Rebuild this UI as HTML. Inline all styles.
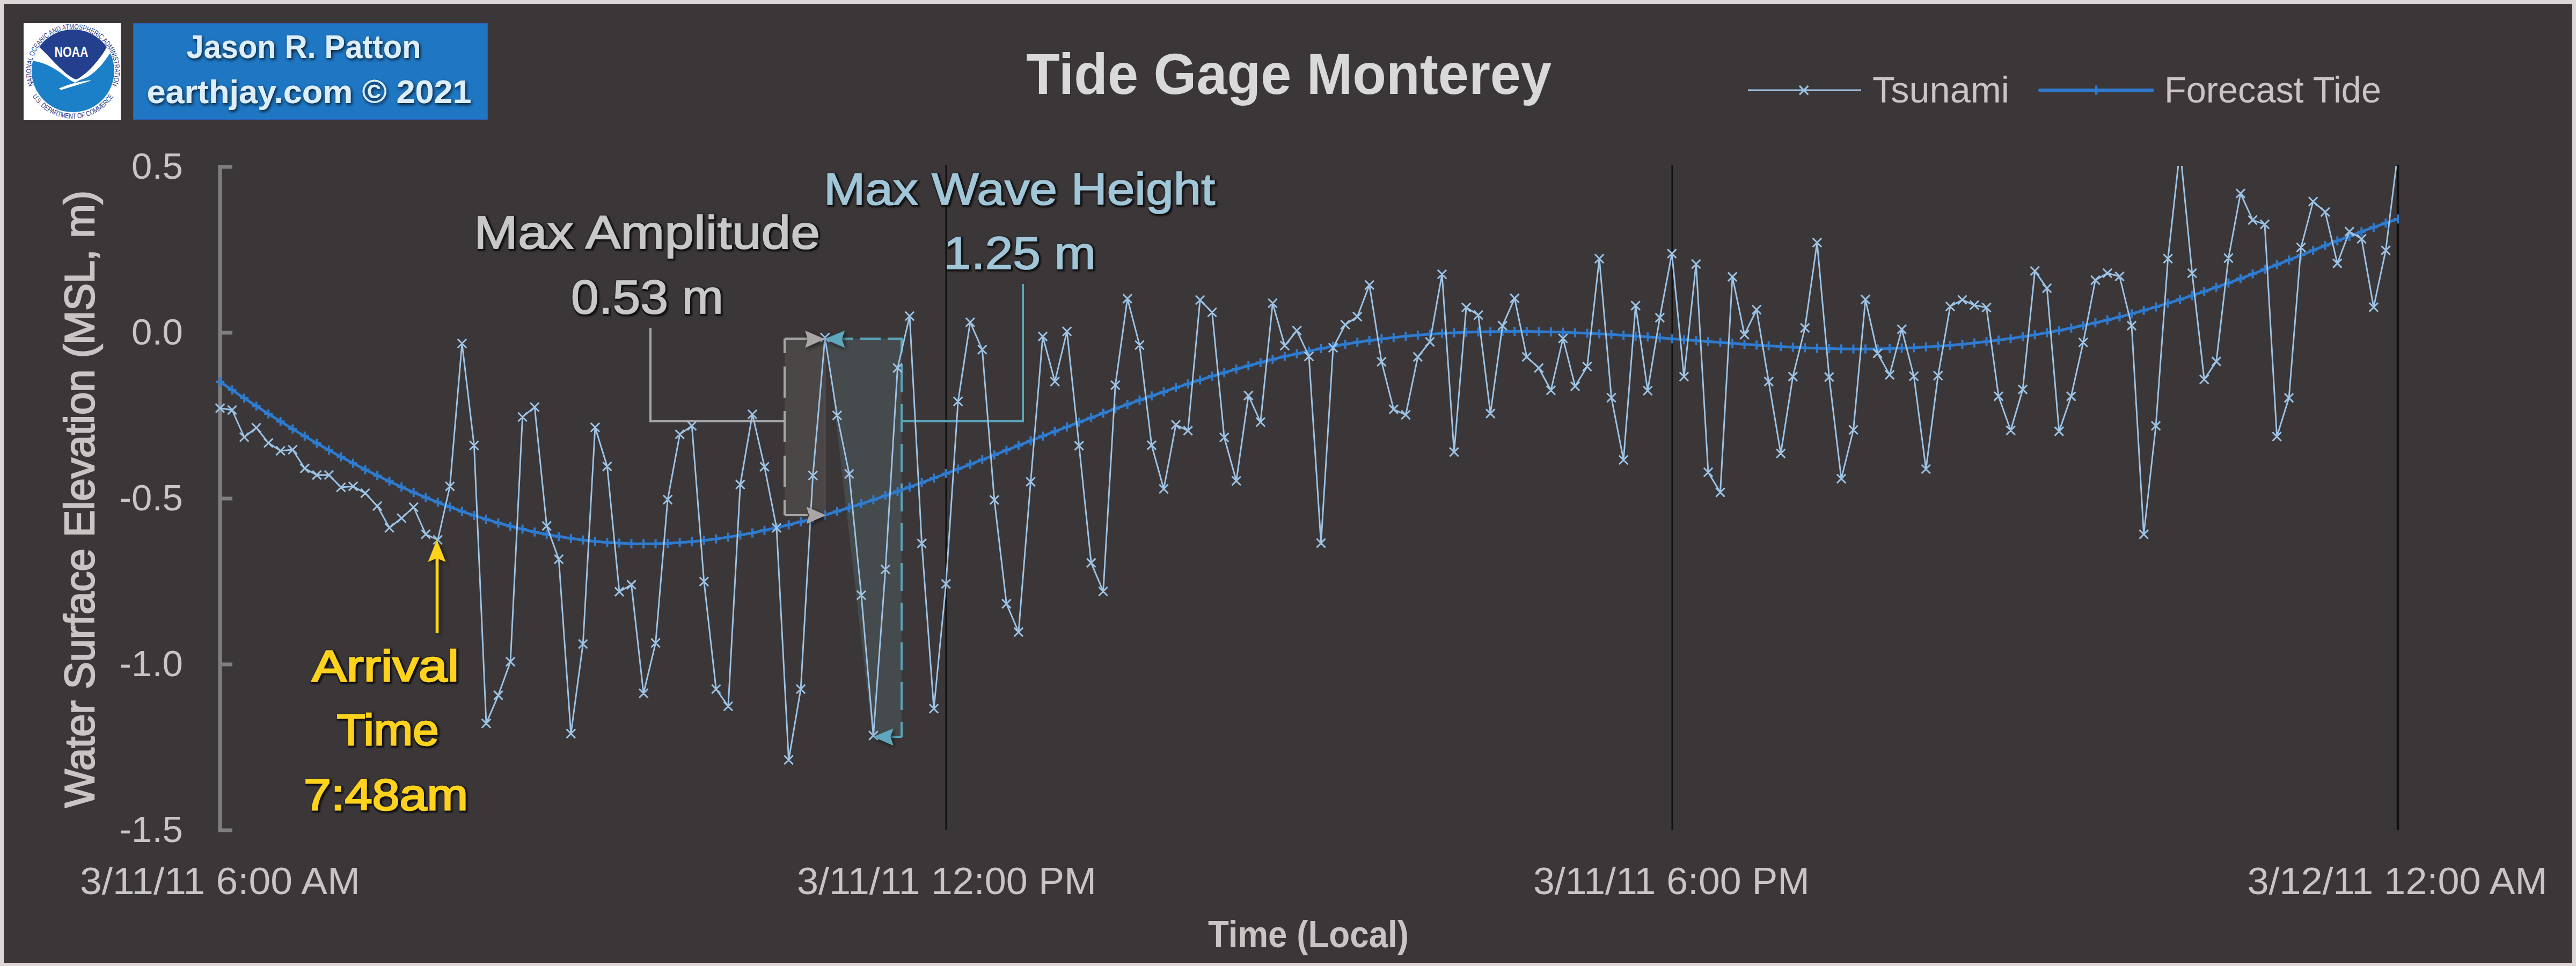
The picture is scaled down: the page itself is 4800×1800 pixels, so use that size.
<!DOCTYPE html>
<html><head><meta charset="utf-8">
<style>
html,body{margin:0;padding:0;background:#dcd8d8;}
body{width:4800px;height:1800px;overflow:hidden;}
svg{display:block;}
text{font-family:"Liberation Sans",sans-serif;}
</style></head>
<body>
<svg width="4800" height="1800" viewBox="0 0 4800 1800">
<defs>
<clipPath id="plotclip"><rect x="300" y="309" width="4170" height="1240"/></clipPath>
<filter id="sh" x="-10%" y="-20%" width="120%" height="140%">
<feDropShadow dx="2" dy="3" stdDeviation="3" flood-color="#000" flood-opacity="0.8"/>
</filter>
<filter id="sh2" x="-50%" y="-50%" width="200%" height="200%">
<feDropShadow dx="3" dy="3" stdDeviation="4" flood-color="#000" flood-opacity="0.6"/>
</filter>
<filter id="glow" x="-5%" y="-20%" width="110%" height="140%">
<feMorphology in="SourceAlpha" operator="dilate" radius="2" result="d"/>
<feGaussianBlur in="d" stdDeviation="1.5" result="b"/>
<feOffset in="b" dx="1.5" dy="2" result="o"/>
<feFlood flood-color="#000" flood-opacity="0.7"/>
<feComposite in2="o" operator="in" result="s"/>
<feMerge><feMergeNode in="s"/><feMergeNode in="SourceGraphic"/></feMerge>
</filter>
</defs>
<rect x="0" y="0" width="4800" height="1800" fill="#dcd8d8"/>
<rect x="7" y="7" width="4786" height="1787" fill="#3b3738"/>

<!-- NOAA logo -->
<g id="logo">
<rect x="44" y="43" width="181" height="181" fill="#ffffff"/>
<defs><clipPath id="disk"><circle cx="135.9" cy="132" r="77"/></clipPath>
<path id="ringTop" d="M68.35 171 A78 78 0 1 1 203.45 171" />
<path id="ringBot" d="M55.2 169.6 A89 89 0 0 0 216.6 169.6" />
</defs>
<circle cx="135.9" cy="132" r="77" fill="#1b80c7"/>
<g clip-path="url(#disk)">
<path d="M40 40 H232 V99 L205.2 99 C198 110 186 126 177.7 132.4 C168 141 158 147 150 148.5 L140 154 C134 152 126 146 118.7 140.3 C110 133 100 127 90 122 C80 117 70 114 40 110 Z" fill="#fff"/>
<path d="M40 40 H232 V80 L199.3 87.2 C194 97 188 106 173.8 122.6 C166 131 160 137 152 142 C148 145 145 147.5 141 148 C136 146 130 142 122.6 136.4 C114 129 108 123 100 115 C92 106 82 96 72.5 87.2 L40 80 Z" fill="#243f8d"/>
</g>
<path d="M109.5 165 C125 158 145 152 170 149.5 C166 152 158 154 150 156.5 C138 160 126 164 114 167.5 Z" fill="#fff"/>
<text x="133" y="106" font-size="28" font-weight="bold" fill="#fff" text-anchor="middle" textLength="63" lengthAdjust="spacingAndGlyphs">NOAA</text>
<text font-size="13.5" fill="#2b3d8f"><textPath href="#ringTop" startOffset="50%" text-anchor="middle" textLength="300" lengthAdjust="spacingAndGlyphs">NATIONAL OCEANIC AND ATMOSPHERIC ADMINISTRATION</textPath></text>
<text font-size="13.5" fill="#2b3d8f" dominant-baseline="auto"><textPath href="#ringBot" startOffset="50%" text-anchor="middle" textLength="180" lengthAdjust="spacingAndGlyphs">U.S. DEPARTMENT OF COMMERCE</textPath></text>
</g>

<!-- blue credit box -->
<rect x="249" y="44" width="659" height="179" fill="#1f77c4" stroke="#2c5fb8" stroke-width="2"/>
<g fill="#deeef9" font-weight="bold" font-size="62" filter="url(#sh)">
<text x="566" y="108" text-anchor="middle" textLength="437" lengthAdjust="spacingAndGlyphs">Jason R. Patton</text>
<text x="576" y="192" text-anchor="middle" textLength="605" lengthAdjust="spacingAndGlyphs">earthjay.com © 2021</text>
</g>

<!-- title -->
<text x="1912" y="175" font-size="108" font-weight="bold" fill="#d9d9d9" textLength="979" lengthAdjust="spacingAndGlyphs">Tide Gage Monterey</text>

<!-- legend -->
<g>
<line x1="3257" y1="168" x2="3468" y2="168" stroke="#9dc3e6" stroke-width="3.2"/>
<path d="M3353 160 l16.4 16.4 M3353 176.4 l16.4 -16.4" stroke="#9dc3e6" stroke-width="3.2"/>
<text x="3489" y="191" font-size="69" fill="#c9c5c5" textLength="255" lengthAdjust="spacingAndGlyphs">Tsunami</text>
<line x1="3801" y1="168" x2="4011" y2="168" stroke="#2e7bcf" stroke-width="6" stroke-linecap="round"/>
<path d="M3906 159.5 v17 M3898 168 h16" stroke="#2e7bcf" stroke-width="4.5"/>
<text x="4033" y="191" font-size="69" fill="#c9c5c5" textLength="404" lengthAdjust="spacingAndGlyphs">Forecast Tide</text>
</g>

<!-- axes -->
<g fill="#c9c5c5" font-size="69" text-anchor="end">
<text x="341" y="333">0.5</text>
<text x="341" y="642">0.0</text>
<text x="341" y="951">-0.5</text>
<text x="341" y="1260">-1.0</text>
<text x="341" y="1569">-1.5</text>
</g>
<path d="M433 311 H410 V1547 H433 M410 620 H433 M410 929 H433 M410 1238 H433" fill="none" stroke="#7f7f7f" stroke-width="7"/>
<g stroke="#111" stroke-width="3">
<line x1="1763" y1="307" x2="1763" y2="1547"/>
<line x1="3116" y1="307" x2="3116" y2="1547"/>
<line x1="4468" y1="307" x2="4468" y2="1547" stroke-width="4.5"/>
</g>
<g fill="#c9c5c5" font-size="70" text-anchor="middle">
<text x="410" y="1666" textLength="522" lengthAdjust="spacingAndGlyphs">3/11/11 6:00 AM</text>
<text x="1764" y="1666" textLength="558" lengthAdjust="spacingAndGlyphs">3/11/11 12:00 PM</text>
<text x="3114.5" y="1666" textLength="515" lengthAdjust="spacingAndGlyphs">3/11/11 6:00 PM</text>
<text x="4467" y="1666" textLength="559" lengthAdjust="spacingAndGlyphs">3/12/11 12:00 AM</text>
</g>
<text x="2438" y="1765" font-size="70" font-weight="bold" fill="#c9c5c5" text-anchor="middle" textLength="374" lengthAdjust="spacingAndGlyphs">Time (Local)</text>
<text transform="translate(175,930) rotate(-90)" font-size="77" font-weight="normal" fill="#c9c5c5" stroke="#c9c5c5" stroke-width="2.4" text-anchor="middle" textLength="1150" lengthAdjust="spacingAndGlyphs">Water Surface Elevation (MSL, m)</text>

<!-- annotations -->
<g id="annot">
<rect x="1462" y="631" width="77" height="329" fill="#4b4747"/>
<path d="M1540 631 H1680 V1373 H1626 Z" fill="#454a4c"/>
<path d="M1212 611 V785 H1462" fill="none" stroke="#a6a6a6" stroke-width="4"/>
<path d="M1462 631 V960" fill="none" stroke="#a6a6a6" stroke-width="4" stroke-dasharray="58 25" stroke-dashoffset="31"/>
<path d="M1462 631 H1505 M1462 960 H1505" fill="none" stroke="#a6a6a6" stroke-width="4"/>
<path d="M1680 785 H1906 V529" fill="none" stroke="#5aa4ba" stroke-width="4"/>
<path d="M1682 631 H1569" fill="none" stroke="#5aa4ba" stroke-width="4" stroke-dasharray="39 13" stroke-dashoffset="11"/>
<path d="M1680 1373 V631" fill="none" stroke="#5aa4ba" stroke-width="4" stroke-dasharray="52 22" stroke-dashoffset="24"/>
<path d="M1680 1373 H1660" fill="none" stroke="#5aa4ba" stroke-width="4"/>
</g>

<g clip-path="url(#plotclip)">
<path d="M410 711.4 L432.5 726.8 L455.1 741.9 L477.6 756.7 L500.2 771.2 L522.7 785.4 L545.3 799.3 L567.8 812.8 L590.4 826 L612.9 838.8 L635.4 851.2 L658 863.3 L680.5 875 L703.1 886.2 L725.6 897.1 L748.2 907.5 L770.7 917.5 L793.3 927 L815.8 936.1 L838.3 944.7 L860.9 952.9 L883.4 960.5 L906 967.7 L928.5 974.4 L951.1 980.5 L973.6 986.1 L996.2 991.2 L1018.7 995.8 L1041.2 999.8 L1063.8 1003.3 L1086.3 1006.3 L1108.9 1008.8 L1131.4 1010.7 L1154 1012.1 L1176.5 1013 L1199.1 1013.3 L1221.6 1013.1 L1244.1 1012.4 L1266.7 1011.1 L1289.2 1009.3 L1311.8 1007 L1334.3 1004.2 L1356.9 1000.9 L1379.4 997.1 L1402 993 L1424.5 988.3 L1447 983.3 L1469.6 977.9 L1492.1 972.2 L1514.7 966.1 L1537.2 959.7 L1559.8 953 L1582.3 946 L1604.9 938.8 L1627.4 931.3 L1649.9 923.6 L1672.5 915.7 L1695 907.6 L1717.6 899.4 L1740.1 891 L1762.7 882.5 L1785.2 874 L1807.8 865.3 L1830.3 856.5 L1852.8 847.8 L1875.4 839 L1897.9 830.2 L1920.5 821.4 L1943 812.7 L1965.6 804 L1988.1 795.4 L2010.7 786.8 L2033.2 778.4 L2055.7 770 L2078.3 761.7 L2100.8 753.6 L2123.4 745.6 L2145.9 737.7 L2168.5 730.1 L2191 722.5 L2213.6 715.2 L2236.1 708 L2258.6 701.1 L2281.2 694.3 L2303.7 687.8 L2326.3 681.5 L2348.8 675.5 L2371.4 669.7 L2393.9 664.3 L2416.5 659.1 L2439 654.2 L2461.5 649.6 L2484.1 645.3 L2506.6 641.4 L2529.2 637.8 L2551.7 634.5 L2574.3 631.5 L2596.8 628.9 L2619.4 626.6 L2641.9 624.5 L2664.4 622.8 L2687 621.3 L2709.5 620.1 L2732.1 619.1 L2754.6 618.4 L2777.2 617.9 L2799.7 617.6 L2822.3 617.5 L2844.8 617.6 L2867.3 618 L2889.9 618.5 L2912.4 619.1 L2935 620 L2957.5 621 L2980.1 622.1 L3002.6 623.3 L3025.2 624.7 L3047.7 626.2 L3070.2 627.8 L3092.8 629.4 L3115.3 631.2 L3137.9 632.9 L3160.4 634.6 L3183 636.4 L3205.5 638.1 L3228.1 639.8 L3250.6 641.4 L3273.1 643 L3295.7 644.4 L3318.2 645.8 L3340.8 647 L3363.3 648 L3385.9 648.9 L3408.4 649.6 L3431 650 L3453.5 650.3 L3476 650.3 L3498.6 650 L3521.1 649.6 L3543.7 648.8 L3566.2 647.9 L3588.8 646.6 L3611.3 645.1 L3633.9 643.4 L3656.4 641.4 L3678.9 639.1 L3701.5 636.6 L3724 633.8 L3746.6 630.8 L3769.1 627.4 L3791.7 623.8 L3814.2 619.9 L3836.8 615.7 L3859.3 611.3 L3881.8 606.5 L3904.4 601.5 L3926.9 596.2 L3949.5 590.6 L3972 584.7 L3994.6 578.5 L4017.1 571.9 L4039.7 565.1 L4062.2 558.1 L4084.7 550.7 L4107.3 543.2 L4129.8 535.3 L4152.4 527.3 L4174.9 519.1 L4197.5 510.6 L4220 502 L4242.6 493.3 L4265.1 484.4 L4287.6 475.5 L4310.2 466.5 L4332.7 457.6 L4355.3 448.8 L4377.8 440.2 L4400.4 431.7 L4422.9 423.5 L4445.5 415.7 L4468 408.1" fill="none" stroke="#2e7bcf" stroke-width="5" stroke-linejoin="round"/>
<path d="M410 702.9v17M402 711.4h16M432.5 718.3v17M424.5 726.8h16M455.1 733.4v17M447.1 741.9h16M477.6 748.2v17M469.6 756.7h16M500.2 762.7v17M492.2 771.2h16M522.7 776.9v17M514.7 785.4h16M545.3 790.8v17M537.3 799.3h16M567.8 804.3v17M559.8 812.8h16M590.4 817.5v17M582.4 826h16M612.9 830.3v17M604.9 838.8h16M635.4 842.7v17M627.4 851.2h16M658 854.8v17M650 863.3h16M680.5 866.5v17M672.5 875h16M703.1 877.7v17M695.1 886.2h16M725.6 888.6v17M717.6 897.1h16M748.2 899v17M740.2 907.5h16M770.7 909v17M762.7 917.5h16M793.3 918.5v17M785.3 927h16M815.8 927.6v17M807.8 936.1h16M838.3 936.2v17M830.3 944.7h16M860.9 944.4v17M852.9 952.9h16M883.4 952v17M875.4 960.5h16M906 959.2v17M898 967.7h16M928.5 965.9v17M920.5 974.4h16M951.1 972v17M943.1 980.5h16M973.6 977.6v17M965.6 986.1h16M996.2 982.7v17M988.2 991.2h16M1018.7 987.3v17M1010.7 995.8h16M1041.2 991.3v17M1033.2 999.8h16M1063.8 994.8v17M1055.8 1003.3h16M1086.3 997.8v17M1078.3 1006.3h16M1108.9 1000.3v17M1100.9 1008.8h16M1131.4 1002.2v17M1123.4 1010.7h16M1154 1003.6v17M1146 1012.1h16M1176.5 1004.5v17M1168.5 1013h16M1199.1 1004.8v17M1191.1 1013.3h16M1221.6 1004.6v17M1213.6 1013.1h16M1244.1 1003.9v17M1236.1 1012.4h16M1266.7 1002.6v17M1258.7 1011.1h16M1289.2 1000.8v17M1281.2 1009.3h16M1311.8 998.5v17M1303.8 1007h16M1334.3 995.7v17M1326.3 1004.2h16M1356.9 992.4v17M1348.9 1000.9h16M1379.4 988.6v17M1371.4 997.1h16M1402 984.5v17M1394 993h16M1424.5 979.8v17M1416.5 988.3h16M1447 974.8v17M1439 983.3h16M1469.6 969.4v17M1461.6 977.9h16M1492.1 963.7v17M1484.1 972.2h16M1514.7 957.6v17M1506.7 966.1h16M1537.2 951.2v17M1529.2 959.7h16M1559.8 944.5v17M1551.8 953h16M1582.3 937.5v17M1574.3 946h16M1604.9 930.3v17M1596.9 938.8h16M1627.4 922.8v17M1619.4 931.3h16M1649.9 915.1v17M1641.9 923.6h16M1672.5 907.2v17M1664.5 915.7h16M1695 899.1v17M1687 907.6h16M1717.6 890.9v17M1709.6 899.4h16M1740.1 882.5v17M1732.1 891h16M1762.7 874v17M1754.7 882.5h16M1785.2 865.5v17M1777.2 874h16M1807.8 856.8v17M1799.8 865.3h16M1830.3 848v17M1822.3 856.5h16M1852.8 839.3v17M1844.8 847.8h16M1875.4 830.5v17M1867.4 839h16M1897.9 821.7v17M1889.9 830.2h16M1920.5 812.9v17M1912.5 821.4h16M1943 804.2v17M1935 812.7h16M1965.6 795.5v17M1957.6 804h16M1988.1 786.9v17M1980.1 795.4h16M2010.7 778.3v17M2002.7 786.8h16M2033.2 769.9v17M2025.2 778.4h16M2055.7 761.5v17M2047.7 770h16M2078.3 753.2v17M2070.3 761.7h16M2100.8 745.1v17M2092.8 753.6h16M2123.4 737.1v17M2115.4 745.6h16M2145.9 729.2v17M2137.9 737.7h16M2168.5 721.6v17M2160.5 730.1h16M2191 714v17M2183 722.5h16M2213.6 706.7v17M2205.6 715.2h16M2236.1 699.5v17M2228.1 708h16M2258.6 692.6v17M2250.6 701.1h16M2281.2 685.8v17M2273.2 694.3h16M2303.7 679.3v17M2295.7 687.8h16M2326.3 673v17M2318.3 681.5h16M2348.8 667v17M2340.8 675.5h16M2371.4 661.2v17M2363.4 669.7h16M2393.9 655.8v17M2385.9 664.3h16M2416.5 650.6v17M2408.5 659.1h16M2439 645.7v17M2431 654.2h16M2461.5 641.1v17M2453.5 649.6h16M2484.1 636.8v17M2476.1 645.3h16M2506.6 632.9v17M2498.6 641.4h16M2529.2 629.3v17M2521.2 637.8h16M2551.7 626v17M2543.7 634.5h16M2574.3 623v17M2566.3 631.5h16M2596.8 620.4v17M2588.8 628.9h16M2619.4 618.1v17M2611.4 626.6h16M2641.9 616v17M2633.9 624.5h16M2664.4 614.3v17M2656.4 622.8h16M2687 612.8v17M2679 621.3h16M2709.5 611.6v17M2701.5 620.1h16M2732.1 610.6v17M2724.1 619.1h16M2754.6 609.9v17M2746.6 618.4h16M2777.2 609.4v17M2769.2 617.9h16M2799.7 609.1v17M2791.7 617.6h16M2822.3 609v17M2814.3 617.5h16M2844.8 609.1v17M2836.8 617.6h16M2867.3 609.5v17M2859.3 618h16M2889.9 610v17M2881.9 618.5h16M2912.4 610.6v17M2904.4 619.1h16M2935 611.5v17M2927 620h16M2957.5 612.5v17M2949.5 621h16M2980.1 613.6v17M2972.1 622.1h16M3002.6 614.8v17M2994.6 623.3h16M3025.2 616.2v17M3017.2 624.7h16M3047.7 617.7v17M3039.7 626.2h16M3070.2 619.3v17M3062.2 627.8h16M3092.8 620.9v17M3084.8 629.4h16M3115.3 622.7v17M3107.3 631.2h16M3137.9 624.4v17M3129.9 632.9h16M3160.4 626.1v17M3152.4 634.6h16M3183 627.9v17M3175 636.4h16M3205.5 629.6v17M3197.5 638.1h16M3228.1 631.3v17M3220.1 639.8h16M3250.6 632.9v17M3242.6 641.4h16M3273.1 634.5v17M3265.1 643h16M3295.7 635.9v17M3287.7 644.4h16M3318.2 637.3v17M3310.2 645.8h16M3340.8 638.5v17M3332.8 647h16M3363.3 639.5v17M3355.3 648h16M3385.9 640.4v17M3377.9 648.9h16M3408.4 641.1v17M3400.4 649.6h16M3431 641.5v17M3423 650h16M3453.5 641.8v17M3445.5 650.3h16M3476 641.8v17M3468 650.3h16M3498.6 641.5v17M3490.6 650h16M3521.1 641.1v17M3513.1 649.6h16M3543.7 640.3v17M3535.7 648.8h16M3566.2 639.4v17M3558.2 647.9h16M3588.8 638.1v17M3580.8 646.6h16M3611.3 636.6v17M3603.3 645.1h16M3633.9 634.9v17M3625.9 643.4h16M3656.4 632.9v17M3648.4 641.4h16M3678.9 630.6v17M3670.9 639.1h16M3701.5 628.1v17M3693.5 636.6h16M3724 625.3v17M3716 633.8h16M3746.6 622.3v17M3738.6 630.8h16M3769.1 618.9v17M3761.1 627.4h16M3791.7 615.3v17M3783.7 623.8h16M3814.2 611.4v17M3806.2 619.9h16M3836.8 607.2v17M3828.8 615.7h16M3859.3 602.8v17M3851.3 611.3h16M3881.8 598v17M3873.8 606.5h16M3904.4 593v17M3896.4 601.5h16M3926.9 587.7v17M3918.9 596.2h16M3949.5 582.1v17M3941.5 590.6h16M3972 576.2v17M3964 584.7h16M3994.6 570v17M3986.6 578.5h16M4017.1 563.4v17M4009.1 571.9h16M4039.7 556.6v17M4031.7 565.1h16M4062.2 549.6v17M4054.2 558.1h16M4084.7 542.2v17M4076.7 550.7h16M4107.3 534.7v17M4099.3 543.2h16M4129.8 526.8v17M4121.8 535.3h16M4152.4 518.8v17M4144.4 527.3h16M4174.9 510.6v17M4166.9 519.1h16M4197.5 502.1v17M4189.5 510.6h16M4220 493.5v17M4212 502h16M4242.6 484.8v17M4234.6 493.3h16M4265.1 475.9v17M4257.1 484.4h16M4287.6 467v17M4279.6 475.5h16M4310.2 458v17M4302.2 466.5h16M4332.7 449.1v17M4324.7 457.6h16M4355.3 440.3v17M4347.3 448.8h16M4377.8 431.7v17M4369.8 440.2h16M4400.4 423.2v17M4392.4 431.7h16M4422.9 415v17M4414.9 423.5h16M4445.5 407.2v17M4437.5 415.7h16M4468 399.6v17M4460 408.1h16" fill="none" stroke="#2e7bcf" stroke-width="4"/>
<path d="M410 760.5 L432.5 764 L455.1 814.5 L477.6 797 L500.2 825.3 L522.7 840 L545.3 838 L567.8 872.8 L590.4 885.2 L612.9 885 L635.4 908 L658 906.2 L680.5 918.9 L703.1 942.9 L725.6 983.5 L748.2 965.5 L770.7 945 L793.3 995.5 L815.8 1006 L838.3 906.2 L860.9 640 L883.4 830 L906 1348 L928.5 1295.6 L951.1 1233 L973.6 777 L996.2 758.5 L1018.7 980 L1041.2 1042 L1063.8 1367 L1086.3 1200 L1108.9 796.3 L1131.4 869.2 L1154 1102.6 L1176.5 1089.6 L1199.1 1292 L1221.6 1198 L1244.1 931 L1266.7 809.3 L1289.2 793.5 L1311.8 1083.7 L1334.3 1284 L1356.9 1316 L1379.4 902.8 L1402 772 L1424.5 869.7 L1447 983.5 L1469.6 1416 L1492.1 1284 L1514.7 886 L1537.2 629 L1559.8 774 L1582.3 883 L1604.9 1109 L1627.4 1370.6 L1649.9 1061 L1672.5 685.7 L1695 589 L1717.6 1012.6 L1740.1 1320.5 L1762.7 1088 L1785.2 748 L1807.8 600.5 L1830.3 651.5 L1852.8 931.6 L1875.4 1125 L1897.9 1177.8 L1920.5 897.7 L1943 626.9 L1965.6 711 L1988.1 617.5 L2010.7 830.6 L2033.2 1048.8 L2055.7 1102 L2078.3 717.7 L2100.8 556.4 L2123.4 643 L2145.9 829.7 L2168.5 911 L2191 791.5 L2213.6 802.6 L2236.1 559 L2258.6 582 L2281.2 815 L2303.7 896 L2326.3 737 L2348.8 786.5 L2371.4 565 L2393.9 644 L2416.5 616 L2439 664 L2461.5 1012 L2484.1 648 L2506.6 605 L2529.2 590 L2551.7 531 L2574.3 674 L2596.8 762.7 L2619.4 773 L2641.9 665 L2664.4 637 L2687 511 L2709.5 842.3 L2732.1 572.8 L2754.6 587 L2777.2 770.6 L2799.7 606.8 L2822.3 555.8 L2844.8 665 L2867.3 685.7 L2889.9 727.3 L2912.4 630.5 L2935 719.7 L2957.5 683 L2980.1 482 L3002.6 741 L3025.2 857 L3047.7 569.4 L3070.2 728 L3092.8 592 L3115.3 472.6 L3137.9 701.8 L3160.4 492 L3183 880 L3205.5 917.4 L3228.1 515.8 L3250.6 623.6 L3273.1 577 L3295.7 711 L3318.2 845 L3340.8 701.7 L3363.3 611 L3385.9 452 L3408.4 702.6 L3431 892 L3453.5 801 L3476 558 L3498.6 658.4 L3521.1 698.4 L3543.7 613.5 L3566.2 701 L3588.8 874 L3611.3 700 L3633.9 571 L3656.4 558.7 L3678.9 568.6 L3701.5 573 L3724 738.4 L3746.6 802 L3769.1 725.7 L3791.7 505 L3814.2 537 L3836.8 803.7 L3859.3 738.4 L3881.8 638 L3904.4 522 L3926.9 509 L3949.5 515 L3972 606.8 L3994.6 995.6 L4017.1 793.6 L4039.7 482 L4062.2 278 L4084.7 509 L4107.3 707 L4129.8 673.6 L4152.4 481 L4174.9 360.4 L4197.5 410 L4220 418 L4242.6 813.5 L4265.1 741.4 L4287.6 461 L4310.2 375.5 L4332.7 395 L4355.3 490.7 L4377.8 431.5 L4400.4 445 L4422.9 572.5 L4445.5 466.4 L4468 285" fill="none" stroke="#9dc3e6" stroke-width="2.9" stroke-linejoin="round"/>
<path d="M401.8 752.3l16.4 16.4M401.8 768.7l16.4 -16.4M424.3 755.8l16.4 16.4M424.3 772.2l16.4 -16.4M446.9 806.3l16.4 16.4M446.9 822.7l16.4 -16.4M469.4 788.8l16.4 16.4M469.4 805.2l16.4 -16.4M492 817.1l16.4 16.4M492 833.5l16.4 -16.4M514.5 831.8l16.4 16.4M514.5 848.2l16.4 -16.4M537.1 829.8l16.4 16.4M537.1 846.2l16.4 -16.4M559.6 864.6l16.4 16.4M559.6 881l16.4 -16.4M582.2 877l16.4 16.4M582.2 893.4l16.4 -16.4M604.7 876.8l16.4 16.4M604.7 893.2l16.4 -16.4M627.2 899.8l16.4 16.4M627.2 916.2l16.4 -16.4M649.8 898l16.4 16.4M649.8 914.4l16.4 -16.4M672.3 910.7l16.4 16.4M672.3 927.1l16.4 -16.4M694.9 934.7l16.4 16.4M694.9 951.1l16.4 -16.4M717.4 975.3l16.4 16.4M717.4 991.7l16.4 -16.4M740 957.3l16.4 16.4M740 973.7l16.4 -16.4M762.5 936.8l16.4 16.4M762.5 953.2l16.4 -16.4M785.1 987.3l16.4 16.4M785.1 1003.7l16.4 -16.4M807.6 997.8l16.4 16.4M807.6 1014.2l16.4 -16.4M830.1 898l16.4 16.4M830.1 914.4l16.4 -16.4M852.7 631.8l16.4 16.4M852.7 648.2l16.4 -16.4M875.2 821.8l16.4 16.4M875.2 838.2l16.4 -16.4M897.8 1339.8l16.4 16.4M897.8 1356.2l16.4 -16.4M920.3 1287.4l16.4 16.4M920.3 1303.8l16.4 -16.4M942.9 1224.8l16.4 16.4M942.9 1241.2l16.4 -16.4M965.4 768.8l16.4 16.4M965.4 785.2l16.4 -16.4M988 750.3l16.4 16.4M988 766.7l16.4 -16.4M1010.5 971.8l16.4 16.4M1010.5 988.2l16.4 -16.4M1033 1033.8l16.4 16.4M1033 1050.2l16.4 -16.4M1055.6 1358.8l16.4 16.4M1055.6 1375.2l16.4 -16.4M1078.1 1191.8l16.4 16.4M1078.1 1208.2l16.4 -16.4M1100.7 788.1l16.4 16.4M1100.7 804.5l16.4 -16.4M1123.2 861l16.4 16.4M1123.2 877.4l16.4 -16.4M1145.8 1094.4l16.4 16.4M1145.8 1110.8l16.4 -16.4M1168.3 1081.4l16.4 16.4M1168.3 1097.8l16.4 -16.4M1190.9 1283.8l16.4 16.4M1190.9 1300.2l16.4 -16.4M1213.4 1189.8l16.4 16.4M1213.4 1206.2l16.4 -16.4M1235.9 922.8l16.4 16.4M1235.9 939.2l16.4 -16.4M1258.5 801.1l16.4 16.4M1258.5 817.5l16.4 -16.4M1281 785.3l16.4 16.4M1281 801.7l16.4 -16.4M1303.6 1075.5l16.4 16.4M1303.6 1091.9l16.4 -16.4M1326.1 1275.8l16.4 16.4M1326.1 1292.2l16.4 -16.4M1348.7 1307.8l16.4 16.4M1348.7 1324.2l16.4 -16.4M1371.2 894.6l16.4 16.4M1371.2 911l16.4 -16.4M1393.8 763.8l16.4 16.4M1393.8 780.2l16.4 -16.4M1416.3 861.5l16.4 16.4M1416.3 877.9l16.4 -16.4M1438.8 975.3l16.4 16.4M1438.8 991.7l16.4 -16.4M1461.4 1407.8l16.4 16.4M1461.4 1424.2l16.4 -16.4M1483.9 1275.8l16.4 16.4M1483.9 1292.2l16.4 -16.4M1506.5 877.8l16.4 16.4M1506.5 894.2l16.4 -16.4M1529 620.8l16.4 16.4M1529 637.2l16.4 -16.4M1551.6 765.8l16.4 16.4M1551.6 782.2l16.4 -16.4M1574.1 874.8l16.4 16.4M1574.1 891.2l16.4 -16.4M1596.7 1100.8l16.4 16.4M1596.7 1117.2l16.4 -16.4M1619.2 1362.4l16.4 16.4M1619.2 1378.8l16.4 -16.4M1641.7 1052.8l16.4 16.4M1641.7 1069.2l16.4 -16.4M1664.3 677.5l16.4 16.4M1664.3 693.9l16.4 -16.4M1686.8 580.8l16.4 16.4M1686.8 597.2l16.4 -16.4M1709.4 1004.4l16.4 16.4M1709.4 1020.8l16.4 -16.4M1731.9 1312.3l16.4 16.4M1731.9 1328.7l16.4 -16.4M1754.5 1079.8l16.4 16.4M1754.5 1096.2l16.4 -16.4M1777 739.8l16.4 16.4M1777 756.2l16.4 -16.4M1799.6 592.3l16.4 16.4M1799.6 608.7l16.4 -16.4M1822.1 643.3l16.4 16.4M1822.1 659.7l16.4 -16.4M1844.6 923.4l16.4 16.4M1844.6 939.8l16.4 -16.4M1867.2 1116.8l16.4 16.4M1867.2 1133.2l16.4 -16.4M1889.7 1169.6l16.4 16.4M1889.7 1186l16.4 -16.4M1912.3 889.5l16.4 16.4M1912.3 905.9l16.4 -16.4M1934.8 618.7l16.4 16.4M1934.8 635.1l16.4 -16.4M1957.4 702.8l16.4 16.4M1957.4 719.2l16.4 -16.4M1979.9 609.3l16.4 16.4M1979.9 625.7l16.4 -16.4M2002.5 822.4l16.4 16.4M2002.5 838.8l16.4 -16.4M2025 1040.6l16.4 16.4M2025 1057l16.4 -16.4M2047.5 1093.8l16.4 16.4M2047.5 1110.2l16.4 -16.4M2070.1 709.5l16.4 16.4M2070.1 725.9l16.4 -16.4M2092.6 548.2l16.4 16.4M2092.6 564.6l16.4 -16.4M2115.2 634.8l16.4 16.4M2115.2 651.2l16.4 -16.4M2137.7 821.5l16.4 16.4M2137.7 837.9l16.4 -16.4M2160.3 902.8l16.4 16.4M2160.3 919.2l16.4 -16.4M2182.8 783.3l16.4 16.4M2182.8 799.7l16.4 -16.4M2205.4 794.4l16.4 16.4M2205.4 810.8l16.4 -16.4M2227.9 550.8l16.4 16.4M2227.9 567.2l16.4 -16.4M2250.4 573.8l16.4 16.4M2250.4 590.2l16.4 -16.4M2273 806.8l16.4 16.4M2273 823.2l16.4 -16.4M2295.5 887.8l16.4 16.4M2295.5 904.2l16.4 -16.4M2318.1 728.8l16.4 16.4M2318.1 745.2l16.4 -16.4M2340.6 778.3l16.4 16.4M2340.6 794.7l16.4 -16.4M2363.2 556.8l16.4 16.4M2363.2 573.2l16.4 -16.4M2385.7 635.8l16.4 16.4M2385.7 652.2l16.4 -16.4M2408.3 607.8l16.4 16.4M2408.3 624.2l16.4 -16.4M2430.8 655.8l16.4 16.4M2430.8 672.2l16.4 -16.4M2453.3 1003.8l16.4 16.4M2453.3 1020.2l16.4 -16.4M2475.9 639.8l16.4 16.4M2475.9 656.2l16.4 -16.4M2498.4 596.8l16.4 16.4M2498.4 613.2l16.4 -16.4M2521 581.8l16.4 16.4M2521 598.2l16.4 -16.4M2543.5 522.8l16.4 16.4M2543.5 539.2l16.4 -16.4M2566.1 665.8l16.4 16.4M2566.1 682.2l16.4 -16.4M2588.6 754.5l16.4 16.4M2588.6 770.9l16.4 -16.4M2611.2 764.8l16.4 16.4M2611.2 781.2l16.4 -16.4M2633.7 656.8l16.4 16.4M2633.7 673.2l16.4 -16.4M2656.2 628.8l16.4 16.4M2656.2 645.2l16.4 -16.4M2678.8 502.8l16.4 16.4M2678.8 519.2l16.4 -16.4M2701.3 834.1l16.4 16.4M2701.3 850.5l16.4 -16.4M2723.9 564.6l16.4 16.4M2723.9 581l16.4 -16.4M2746.4 578.8l16.4 16.4M2746.4 595.2l16.4 -16.4M2769 762.4l16.4 16.4M2769 778.8l16.4 -16.4M2791.5 598.6l16.4 16.4M2791.5 615l16.4 -16.4M2814.1 547.6l16.4 16.4M2814.1 564l16.4 -16.4M2836.6 656.8l16.4 16.4M2836.6 673.2l16.4 -16.4M2859.1 677.5l16.4 16.4M2859.1 693.9l16.4 -16.4M2881.7 719.1l16.4 16.4M2881.7 735.5l16.4 -16.4M2904.2 622.3l16.4 16.4M2904.2 638.7l16.4 -16.4M2926.8 711.5l16.4 16.4M2926.8 727.9l16.4 -16.4M2949.3 674.8l16.4 16.4M2949.3 691.2l16.4 -16.4M2971.9 473.8l16.4 16.4M2971.9 490.2l16.4 -16.4M2994.4 732.8l16.4 16.4M2994.4 749.2l16.4 -16.4M3017 848.8l16.4 16.4M3017 865.2l16.4 -16.4M3039.5 561.2l16.4 16.4M3039.5 577.6l16.4 -16.4M3062 719.8l16.4 16.4M3062 736.2l16.4 -16.4M3084.6 583.8l16.4 16.4M3084.6 600.2l16.4 -16.4M3107.1 464.4l16.4 16.4M3107.1 480.8l16.4 -16.4M3129.7 693.6l16.4 16.4M3129.7 710l16.4 -16.4M3152.2 483.8l16.4 16.4M3152.2 500.2l16.4 -16.4M3174.8 871.8l16.4 16.4M3174.8 888.2l16.4 -16.4M3197.3 909.2l16.4 16.4M3197.3 925.6l16.4 -16.4M3219.9 507.6l16.4 16.4M3219.9 524l16.4 -16.4M3242.4 615.4l16.4 16.4M3242.4 631.8l16.4 -16.4M3264.9 568.8l16.4 16.4M3264.9 585.2l16.4 -16.4M3287.5 702.8l16.4 16.4M3287.5 719.2l16.4 -16.4M3310 836.8l16.4 16.4M3310 853.2l16.4 -16.4M3332.6 693.5l16.4 16.4M3332.6 709.9l16.4 -16.4M3355.1 602.8l16.4 16.4M3355.1 619.2l16.4 -16.4M3377.7 443.8l16.4 16.4M3377.7 460.2l16.4 -16.4M3400.2 694.4l16.4 16.4M3400.2 710.8l16.4 -16.4M3422.8 883.8l16.4 16.4M3422.8 900.2l16.4 -16.4M3445.3 792.8l16.4 16.4M3445.3 809.2l16.4 -16.4M3467.8 549.8l16.4 16.4M3467.8 566.2l16.4 -16.4M3490.4 650.2l16.4 16.4M3490.4 666.6l16.4 -16.4M3512.9 690.2l16.4 16.4M3512.9 706.6l16.4 -16.4M3535.5 605.3l16.4 16.4M3535.5 621.7l16.4 -16.4M3558 692.8l16.4 16.4M3558 709.2l16.4 -16.4M3580.6 865.8l16.4 16.4M3580.6 882.2l16.4 -16.4M3603.1 691.8l16.4 16.4M3603.1 708.2l16.4 -16.4M3625.7 562.8l16.4 16.4M3625.7 579.2l16.4 -16.4M3648.2 550.5l16.4 16.4M3648.2 566.9l16.4 -16.4M3670.7 560.4l16.4 16.4M3670.7 576.8l16.4 -16.4M3693.3 564.8l16.4 16.4M3693.3 581.2l16.4 -16.4M3715.8 730.2l16.4 16.4M3715.8 746.6l16.4 -16.4M3738.4 793.8l16.4 16.4M3738.4 810.2l16.4 -16.4M3760.9 717.5l16.4 16.4M3760.9 733.9l16.4 -16.4M3783.5 496.8l16.4 16.4M3783.5 513.2l16.4 -16.4M3806 528.8l16.4 16.4M3806 545.2l16.4 -16.4M3828.6 795.5l16.4 16.4M3828.6 811.9l16.4 -16.4M3851.1 730.2l16.4 16.4M3851.1 746.6l16.4 -16.4M3873.6 629.8l16.4 16.4M3873.6 646.2l16.4 -16.4M3896.2 513.8l16.4 16.4M3896.2 530.2l16.4 -16.4M3918.7 500.8l16.4 16.4M3918.7 517.2l16.4 -16.4M3941.3 506.8l16.4 16.4M3941.3 523.2l16.4 -16.4M3963.8 598.6l16.4 16.4M3963.8 615l16.4 -16.4M3986.4 987.4l16.4 16.4M3986.4 1003.8l16.4 -16.4M4008.9 785.4l16.4 16.4M4008.9 801.8l16.4 -16.4M4031.5 473.8l16.4 16.4M4031.5 490.2l16.4 -16.4M4054 269.8l16.4 16.4M4054 286.2l16.4 -16.4M4076.5 500.8l16.4 16.4M4076.5 517.2l16.4 -16.4M4099.1 698.8l16.4 16.4M4099.1 715.2l16.4 -16.4M4121.6 665.4l16.4 16.4M4121.6 681.8l16.4 -16.4M4144.2 472.8l16.4 16.4M4144.2 489.2l16.4 -16.4M4166.7 352.2l16.4 16.4M4166.7 368.6l16.4 -16.4M4189.3 401.8l16.4 16.4M4189.3 418.2l16.4 -16.4M4211.8 409.8l16.4 16.4M4211.8 426.2l16.4 -16.4M4234.4 805.3l16.4 16.4M4234.4 821.7l16.4 -16.4M4256.9 733.2l16.4 16.4M4256.9 749.6l16.4 -16.4M4279.4 452.8l16.4 16.4M4279.4 469.2l16.4 -16.4M4302 367.3l16.4 16.4M4302 383.7l16.4 -16.4M4324.5 386.8l16.4 16.4M4324.5 403.2l16.4 -16.4M4347.1 482.5l16.4 16.4M4347.1 498.9l16.4 -16.4M4369.6 423.3l16.4 16.4M4369.6 439.7l16.4 -16.4M4392.2 436.8l16.4 16.4M4392.2 453.2l16.4 -16.4M4414.7 564.3l16.4 16.4M4414.7 580.7l16.4 -16.4M4437.3 458.2l16.4 16.4M4437.3 474.6l16.4 -16.4M4459.8 276.8l16.4 16.4M4459.8 293.2l16.4 -16.4" fill="none" stroke="#9dc3e6" stroke-width="3"/>
</g>

<g id="arrows" filter="url(#sh2)">
<path d="M1536.5 631.7 L1500.2 616 L1505 631.7 L1500.2 648 Z" fill="#aaa6a6"/>
<path d="M1539 960 L1502.7 944.3 L1507.5 960 L1502.7 976.3 Z" fill="#aaa6a6"/>
<path d="M1536.5 631.7 L1574.2 616 L1568.8 631.7 L1574.2 648 Z" fill="#5ea7bc"/>
<path d="M1627 1373 L1664.7 1357.3 L1659.3 1373 L1664.7 1389.3 Z" fill="#5ea7bc"/>
<path d="M814.5 1180 V1040" stroke="#ffd21f" stroke-width="5.5" fill="none"/>
<path d="M814 1006 L797.5 1047 L814 1040 L830.5 1047 Z" fill="#ffd21f"/>
</g>
<g filter="url(#glow)" stroke-width="1.6">
<text x="883" y="463" font-size="87" fill="#c8c8c8" stroke="#c8c8c8" textLength="645" lengthAdjust="spacingAndGlyphs">Max Amplitude</text>
<text x="1064" y="583.5" font-size="89" fill="#c8c8c8" stroke="#c8c8c8" textLength="284" lengthAdjust="spacingAndGlyphs">0.53 m</text>
<text x="1535" y="380.5" font-size="84" fill="#a0c6d8" stroke="#a0c6d8" textLength="729" lengthAdjust="spacingAndGlyphs">Max Wave Height</text>
<text x="1758" y="501" font-size="86" fill="#a0c6d8" stroke="#a0c6d8" textLength="284" lengthAdjust="spacingAndGlyphs">1.25 m</text>
</g>
<g filter="url(#glow)" fill="#ffd21f" stroke="#ffd21f" stroke-width="2.6" font-size="82" font-weight="normal" text-anchor="middle">
<text x="718" y="1268.5" textLength="274" lengthAdjust="spacingAndGlyphs">Arrival</text>
<text x="722.5" y="1387.5" textLength="190" lengthAdjust="spacingAndGlyphs">Time</text>
<text x="719" y="1509" textLength="306" lengthAdjust="spacingAndGlyphs">7:48am</text>
</g>

</svg>
</body></html>
